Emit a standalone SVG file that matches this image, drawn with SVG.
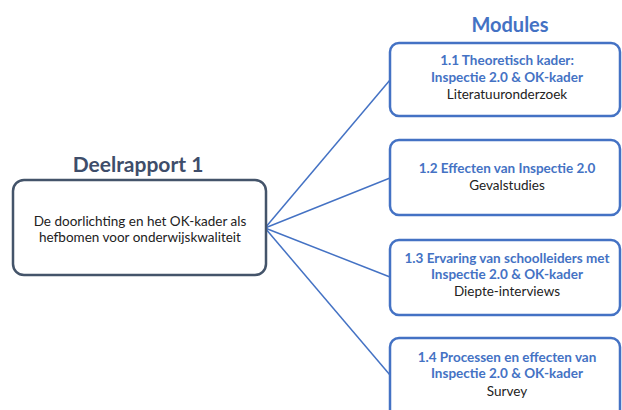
<svg xmlns="http://www.w3.org/2000/svg" width="622" height="410" viewBox="0 0 622 410">
  <style>
    .bg { fill: #ffffff; }
    .main { fill: #ffffff; stroke: #44546a; stroke-width: 2.5; }
    .mod { fill: #ffffff; stroke: #4472c4; stroke-width: 2.5; }
    .link { stroke: #4472c4; stroke-width: 1.5; fill: none; }
    text { font-family: Lato, "Liberation Sans", sans-serif; text-anchor: middle; }
    .heading { font-size: 20px; font-weight: bold; }
    .h-dark { fill: #3e4d6a; font-size: 21px; }
    .h-blue { fill: #4472c4; }
    .body { font-size: 13.5px; fill: #222222; }
    .mtitle { font-size: 13.5px; font-weight: bold; fill: #4472c4; }
  </style>

  <rect class="bg" x="0" y="0" width="622" height="410"/>

  <!-- connectors from the report box to each module -->
  <g id="connectors">
    <line class="link" x1="265" y1="228" x2="390" y2="80"/>
    <line class="link" x1="265" y1="228" x2="390" y2="178"/>
    <line class="link" x1="265" y1="228" x2="390" y2="277"/>
    <line class="link" x1="265" y1="228" x2="390" y2="375"/>
  </g>

  <!-- report -->
  <g id="deelrapport">
    <text class="heading h-dark" x="138" y="172">Deelrapport 1</text>
    <rect class="main" x="13" y="180" width="253" height="95" rx="11"/>
    <text class="body" x="140" y="226">De doorlichting en het OK-kader als</text>
    <text class="body" x="140" y="242">hefbomen voor onderwijskwaliteit</text>
  </g>

  <text id="modules-heading" class="heading h-blue" x="510" y="32">Modules</text>

  <g id="module-1-1">
    <rect class="mod" x="390" y="43" width="230" height="73" rx="9"/>
    <text class="mtitle" x="507" y="65">1.1 Theoretisch kader:</text>
    <text class="mtitle" x="507" y="82">Inspectie 2.0 &amp; OK-kader</text>
    <text class="body" x="507" y="99">Literatuuronderzoek</text>
  </g>

  <g id="module-1-2">
    <rect class="mod" x="390" y="140" width="230" height="75" rx="9"/>
    <text class="mtitle" x="507" y="173">1.2 Effecten van Inspectie 2.0</text>
    <text class="body" x="507" y="190">Gevalstudies</text>
  </g>

  <g id="module-1-3">
    <rect class="mod" x="390" y="240" width="230" height="75" rx="9"/>
    <text class="mtitle" x="507" y="263">1.3 Ervaring van schoolleiders met</text>
    <text class="mtitle" x="507" y="279">Inspectie 2.0 &amp; OK-kader</text>
    <text class="body" x="507" y="296">Diepte-interviews</text>
  </g>

  <g id="module-1-4">
    <rect class="mod" x="390" y="338" width="230" height="85" rx="9"/>
    <text class="mtitle" x="507" y="362">1.4 Processen en effecten van</text>
    <text class="mtitle" x="507" y="378">Inspectie 2.0 &amp; OK-kader</text>
    <text class="body" x="507" y="396">Survey</text>
  </g>
</svg>
